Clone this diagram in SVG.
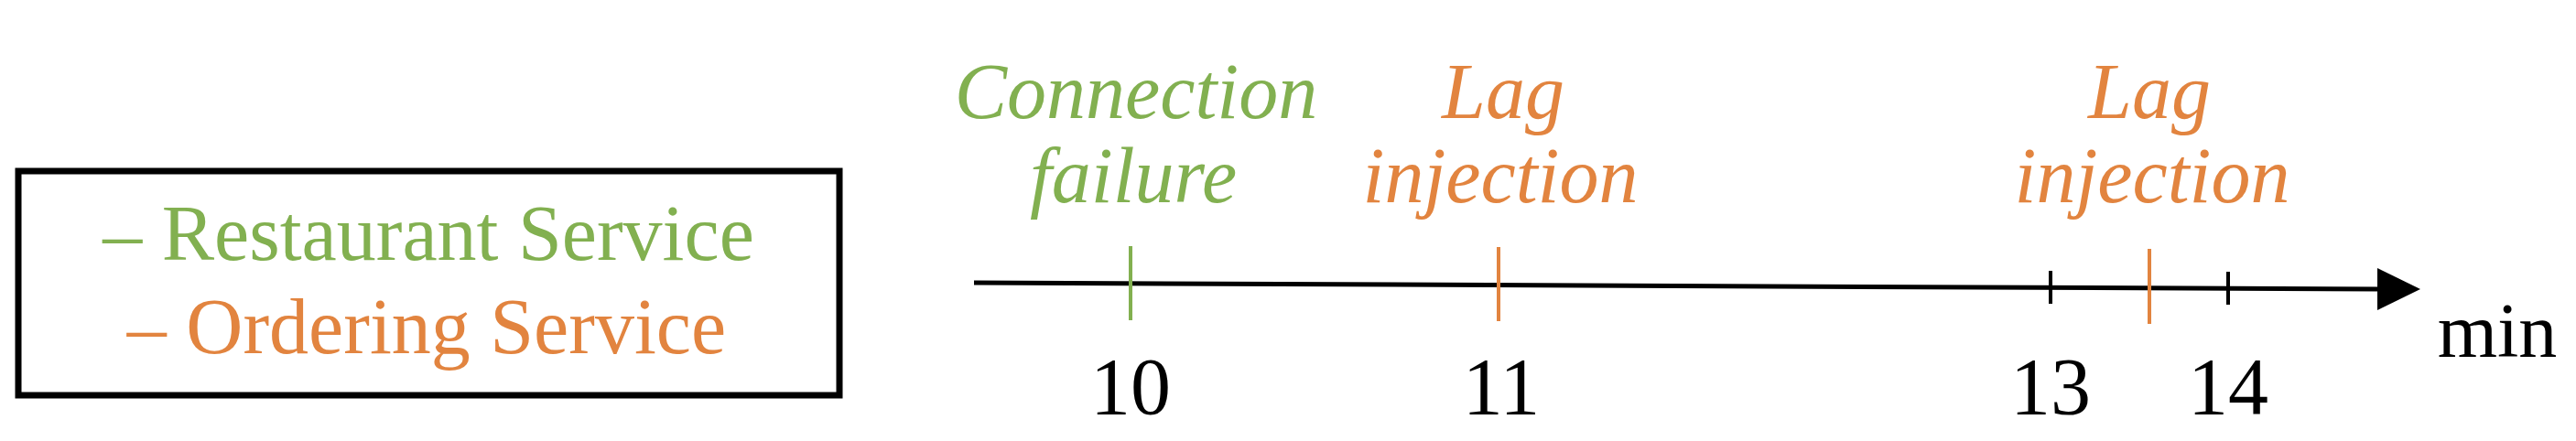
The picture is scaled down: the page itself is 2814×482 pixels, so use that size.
<svg xmlns="http://www.w3.org/2000/svg" width="2814" height="482" viewBox="0 0 2814 482">
<style>
text{font-family:"Liberation Serif","Times New Roman",serif;}
.g{fill:#82B050;}
.o{fill:#E2843F;}
.k{fill:#000;}
.lbl{font-style:italic;font-size:86px;text-anchor:middle;}
.num{font-size:88px;text-anchor:middle;}
.leg{font-size:86px;text-anchor:middle;}
.tg{stroke:#82B050;stroke-width:4;}
.to{stroke:#E2843F;stroke-width:4;}
.tk{stroke:#000;stroke-width:4;}
</style>
<rect width="2814" height="482" fill="#fff"/>
<g id="legend">
<rect x="20" y="187" width="897" height="245" fill="none" stroke="#000" stroke-width="7"/>
<text class="leg g" x="468" y="284">– Restaurant Service</text>
<text class="leg o" x="466" y="386">– Ordering Service</text>
</g>
<g id="connectors">
<line x1="1064" y1="309" x2="2600" y2="316" stroke="#000" stroke-width="5"/>
<polygon points="2597,293 2644,316 2597,339" fill="#000"/>
</g>
<g id="tick-10">
<line class="tg" x1="1235" y1="269" x2="1235" y2="350"/>
<text class="lbl g" x="1241" y="129">Connection</text>
<text class="lbl g" x="1238" y="221">failure</text>
<text class="num k" x="1235" y="452">10</text>
</g>
<g id="tick-11">
<line class="to" x1="1637" y1="270" x2="1637" y2="351"/>
<text class="lbl o" x="1642" y="129">Lag</text>
<text class="lbl o" x="1639" y="221">injection</text>
<text class="num k" x="1640" y="452">11</text>
</g>
<g id="tick-13">
<line class="tk" x1="2240" y1="296" x2="2240" y2="332"/>
<text class="num k" x="2240" y="452">13</text>
</g>
<g id="lag-2">
<line class="to" x1="2348" y1="272" x2="2348" y2="354"/>
<text class="lbl o" x="2348" y="129">Lag</text>
<text class="lbl o" x="2351" y="221">injection</text>
</g>
<g id="tick-14">
<line class="tk" x1="2434" y1="297" x2="2434" y2="333"/>
<text class="num k" x="2434" y="452">14</text>
</g>
<g id="unit">
<text class="k" x="2728" y="390" font-size="84" text-anchor="middle">min</text>
</g>
</svg>
